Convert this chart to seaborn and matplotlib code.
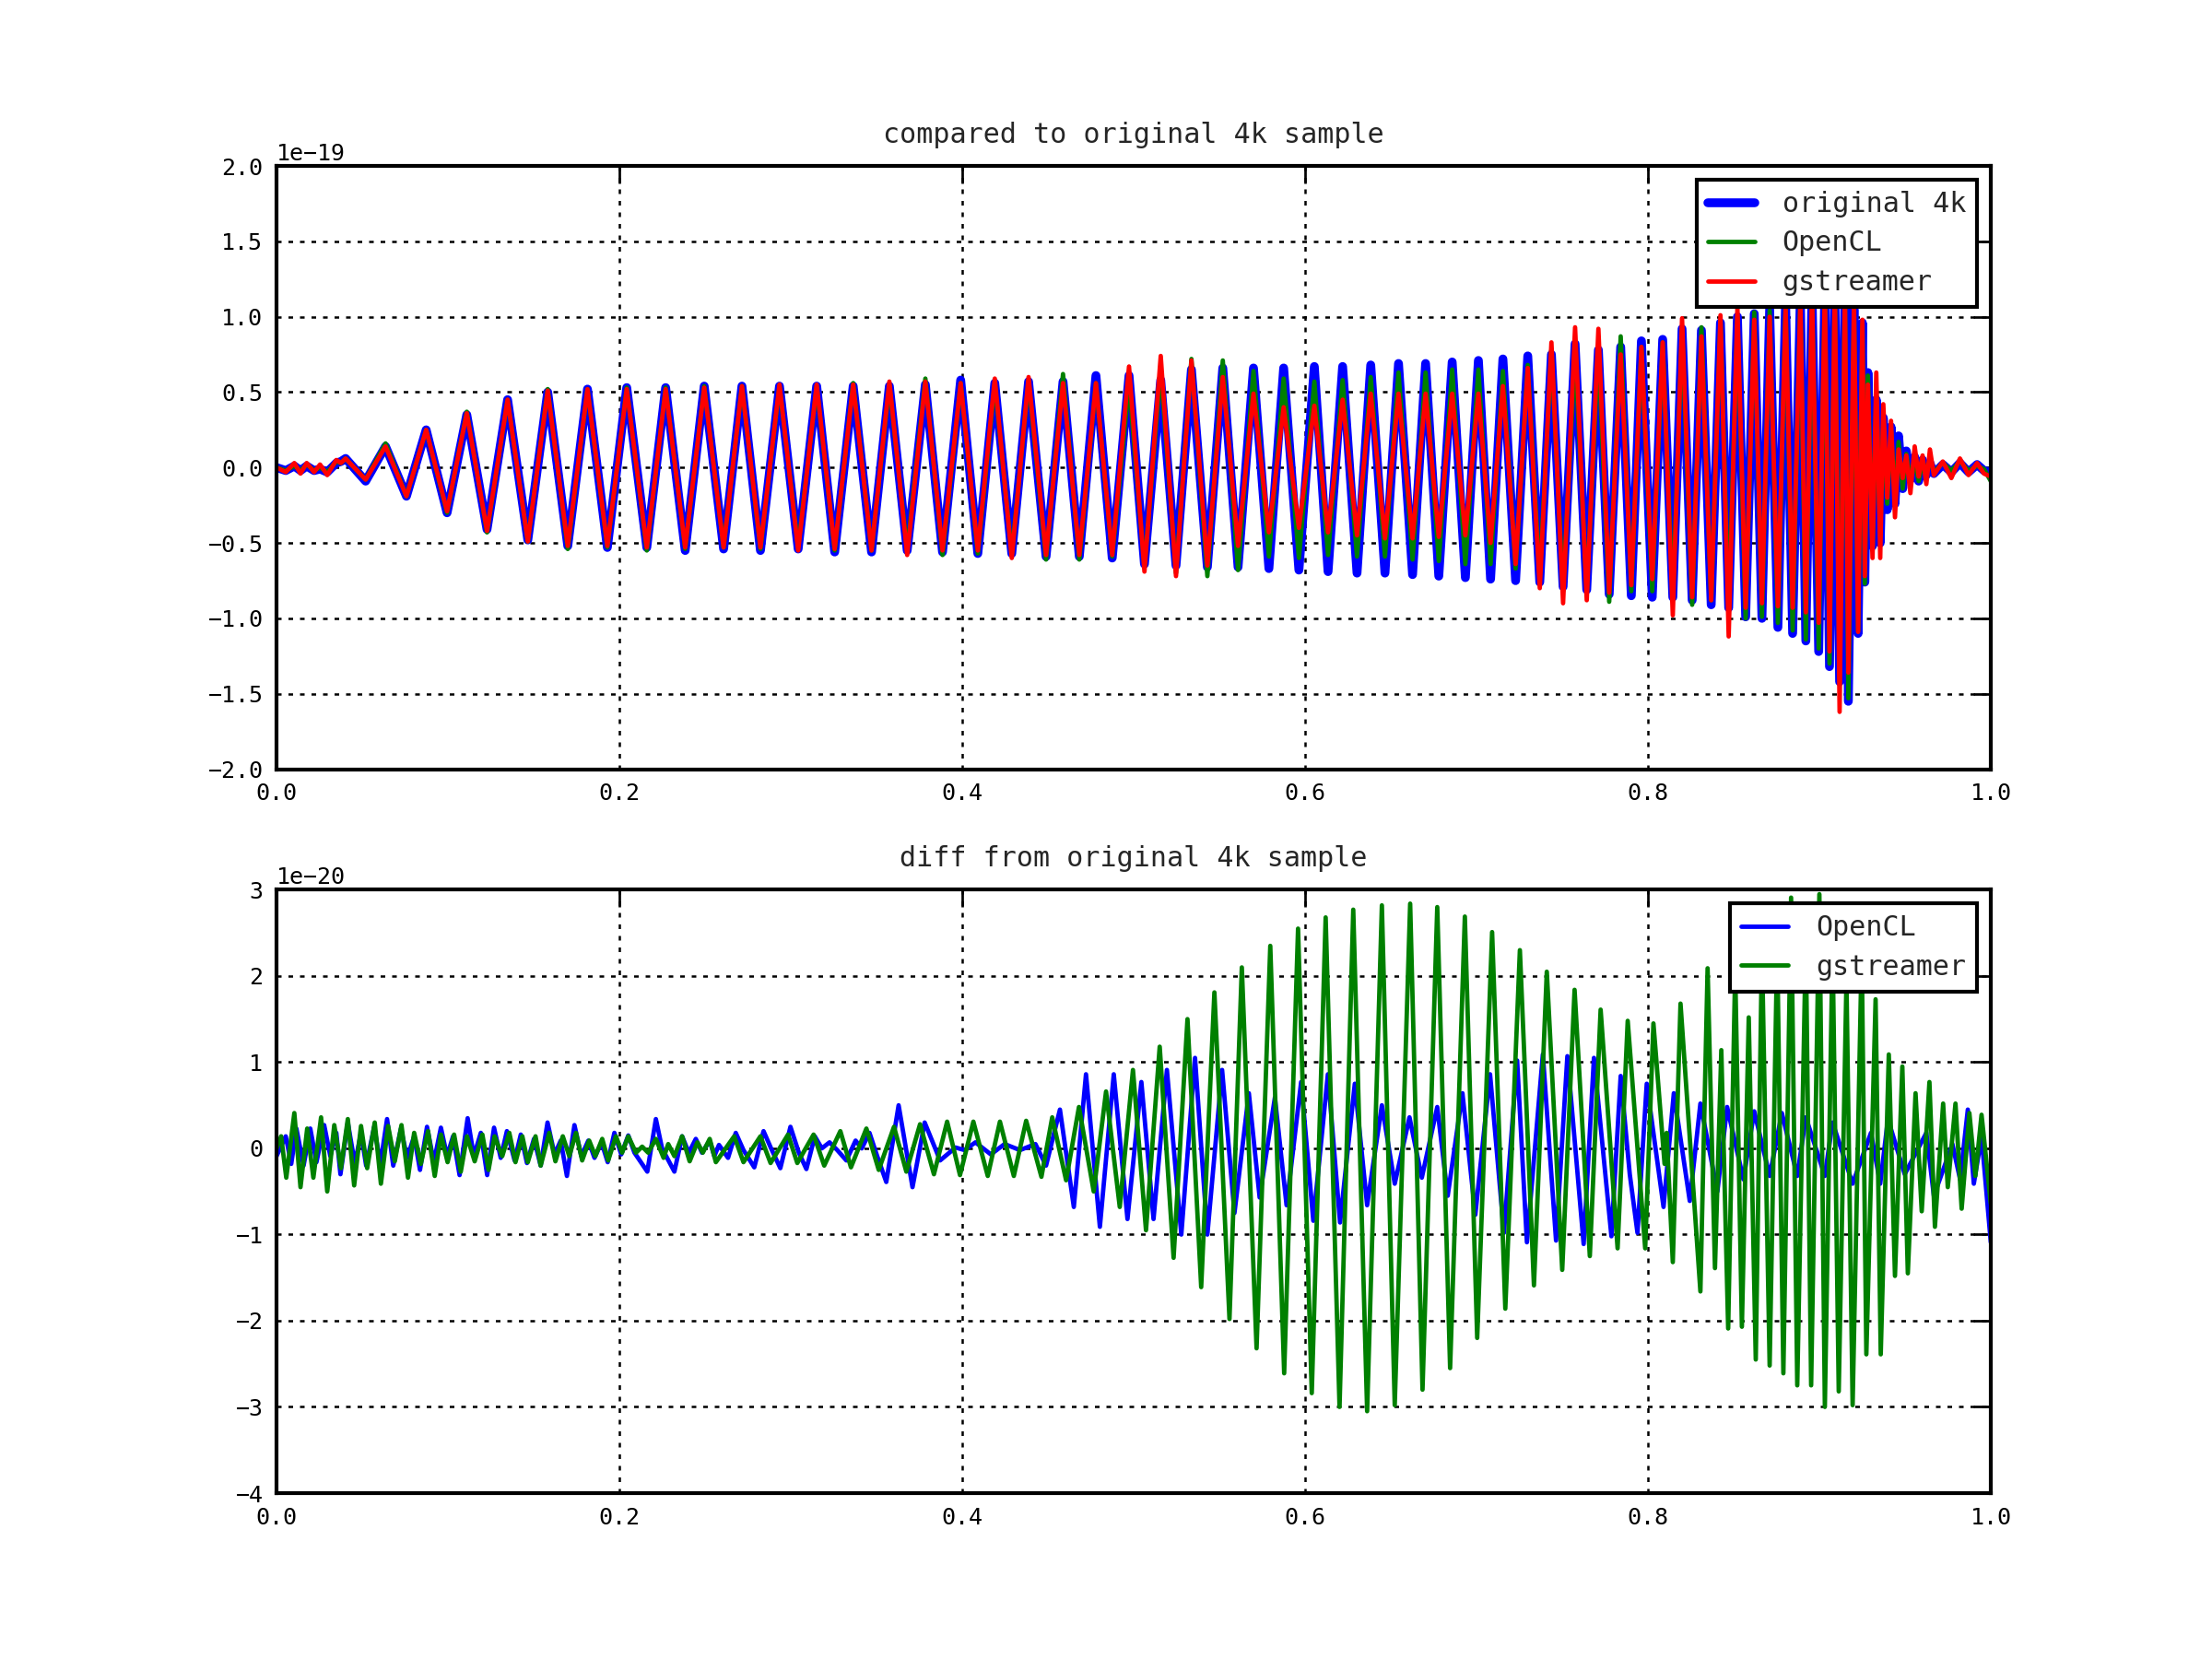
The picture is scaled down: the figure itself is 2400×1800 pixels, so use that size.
import numpy as np
import pandas as pd
import matplotlib
matplotlib.use("Agg")
import matplotlib.pyplot as plt
import seaborn as sns

# ---- top panel: extrema of the three waveforms (units of 1e-19) ----
t_top = [
    0.0, 0.0054, 0.0104, 0.014, 0.0176, 0.0219, 0.0254, 0.0296, 0.0349, 0.0376, 0.0403,
    0.052, 0.0636, 0.0758, 0.0873, 0.0995, 0.111, 0.1228, 0.1348, 0.1466, 0.1582,
    0.1699, 0.1814, 0.193, 0.2043, 0.216, 0.227, 0.2384, 0.2495,
    0.2608, 0.2715, 0.2823, 0.2934, 0.3043, 0.3151, 0.3256, 0.3364, 0.3471, 0.3575,
    0.3679, 0.3785, 0.3885, 0.3991, 0.4091, 0.419, 0.4289, 0.4387, 0.4489, 0.4588,
    0.4683, 0.478, 0.4875, 0.4973,
    0.5063, 0.5158, 0.5247, 0.5337, 0.543, 0.552, 0.5609, 0.5699, 0.5789, 0.5875,
    0.5964, 0.6054, 0.6134, 0.6219, 0.6303, 0.6383, 0.6466, 0.6545, 0.6627, 0.6703,
    0.678, 0.6858, 0.6935, 0.7011, 0.7082, 0.7154, 0.7228, 0.7299, 0.7369, 0.7437,
    0.7505, 0.7575, 0.7643, 0.7711, 0.7774, 0.7841, 0.7903, 0.7962, 0.8025, 0.8086,
    0.8145, 0.8199, 0.8258, 0.8312, 0.8369, 0.8423, 0.8471, 0.8522, 0.857, 0.862,
    0.8665, 0.871, 0.8758, 0.8803, 0.8844, 0.8889, 0.8921, 0.8957, 0.8996, 0.9032,
    0.9059, 0.909, 0.9118, 0.9149, 0.9169, 0.9202, 0.9226, 0.9251, 0.9265, 0.9283,
    0.931, 0.9332, 0.9355, 0.9373, 0.9396, 0.9418, 0.9441, 0.9462, 0.9486, 0.9507,
    0.9531, 0.9556, 0.9579, 0.9602, 0.9624, 0.9645, 0.9668,
    0.972, 0.977, 0.982, 0.987, 0.992, 0.996, 1.0,
]

original_4k = [
    0.0, -0.02, 0.01, -0.02, 0.01, -0.02, -0.01, -0.03, 0.03, 0.04, 0.06,
    -0.09, 0.14, -0.19, 0.25, -0.30, 0.35, -0.41, 0.45, -0.48, 0.50,
    -0.52, 0.52, -0.53, 0.53, -0.53, 0.53, -0.55, 0.54,
    -0.54, 0.54, -0.55, 0.54, -0.54, 0.54, -0.56, 0.54, -0.56, 0.54,
    -0.55, 0.55, -0.56, 0.58, -0.57, 0.56, -0.57, 0.57, -0.59, 0.57,
    -0.59, 0.61, -0.60, 0.61,
    -0.64, 0.58, -0.65, 0.65, -0.66, 0.66, -0.66, 0.66, -0.67, 0.66,
    -0.68, 0.67, -0.69, 0.67, -0.70, 0.68, -0.70, 0.69, -0.71, 0.69,
    -0.72, 0.70, -0.73, 0.71, -0.74, 0.72, -0.75, 0.74, -0.76, 0.75,
    -0.79, 0.82, -0.81, 0.78, -0.84, 0.80, -0.85, 0.84, -0.86, 0.85,
    -0.86, 0.92, -0.88, 0.91, -0.91, 0.96, -0.93, 1.00, -0.99, 1.02,
    -1.00, 1.05, -1.06, 1.10, -1.10, 1.13, -1.15, 1.17, -1.22, 1.20,
    -1.32, 1.20, -1.42, 1.15, -1.55, 1.05, -1.10, 0.96, -0.76, 0.63,
    -0.52, 0.45, -0.50, 0.33, -0.28, 0.27, -0.24, 0.21, -0.14, 0.11,
    -0.08, 0.07, -0.09, 0.05, -0.05, 0.03, -0.04,
    0.02, -0.03, 0.03, -0.03, 0.02, -0.02, -0.03,
]

opencl = [
    0.0, -0.02, 0.01, -0.02, 0.02, -0.02, 0.0, -0.03, 0.04, 0.03, 0.06,
    -0.08, 0.16, -0.19, 0.25, -0.30, 0.37, -0.43, 0.45, -0.49, 0.52,
    -0.54, 0.52, -0.53, 0.53, -0.55, 0.53, -0.54, 0.54,
    -0.53, 0.54, -0.54, 0.54, -0.53, 0.54, -0.55, 0.56, -0.55, 0.55,
    -0.55, 0.59, -0.58, 0.56, -0.57, 0.56, -0.58, 0.58, -0.61, 0.62,
    -0.61, 0.56, -0.59, 0.56,
    -0.66, 0.65, -0.70, 0.72, -0.72, 0.71, -0.68, 0.64, -0.59, 0.59,
    -0.60, 0.57, -0.58, 0.58, -0.59, 0.60, -0.59, 0.63, -0.61, 0.63,
    -0.62, 0.65, -0.64, 0.65, -0.64, 0.64, -0.67, 0.68, -0.73, 0.78,
    -0.82, 0.77, -0.83, 0.79, -0.89, 0.87, -0.82, 0.80, -0.82, 0.83,
    -0.88, 0.92, -0.91, 0.93, -0.88, 0.98, -0.96, 1.00, -1.00, 1.03,
    -0.99, 1.04, -1.03, 1.08, -1.08, 1.12, -1.14, 1.16, -1.20, 1.18,
    -1.30, 1.18, -1.40, 1.14, -1.53, 1.05, -1.08, 0.95, -0.77, 0.61,
    -0.55, 0.50, -0.46, 0.30, -0.24, 0.25, -0.22, 0.17, -0.14, 0.09,
    -0.08, 0.03, -0.09, 0.04, -0.02, 0.04, -0.03,
    0.03, -0.02, 0.04, -0.02, 0.01, -0.01, -0.09,
]

gstreamer = [
    0.0, -0.03, 0.03, -0.04, 0.03, -0.03, 0.02, -0.05, 0.05, 0.03, 0.06,
    -0.08, 0.14, -0.19, 0.25, -0.29, 0.36, -0.42, 0.45, -0.49, 0.51,
    -0.52, 0.52, -0.52, 0.52, -0.53, 0.52, -0.53, 0.53,
    -0.53, 0.54, -0.53, 0.55, -0.55, 0.55, -0.54, 0.55, -0.55, 0.57,
    -0.58, 0.57, -0.55, 0.56, -0.55, 0.59, -0.60, 0.60, -0.58, 0.56,
    -0.58, 0.56, -0.58, 0.67,
    -0.69, 0.74, -0.72, 0.71, -0.65, 0.60, -0.52, 0.49, -0.43, 0.40,
    -0.40, 0.41, -0.43, 0.45, -0.45, 0.49, -0.47, 0.49, -0.47, 0.49,
    -0.46, 0.49, -0.45, 0.49, -0.50, 0.54, -0.64, 0.66, -0.80, 0.83,
    -0.90, 0.93, -0.88, 0.92, -0.83, 0.75, -0.78, 0.80, -0.74, 0.83,
    -0.98, 0.99, -0.86, 0.87, -0.88, 1.01, -1.12, 1.06, -0.93, 0.98,
    -0.90, 1.00, -0.92, 1.06, -0.93, 1.10, -0.96, 1.15, -1.03, 1.18,
    -1.22, 1.20, -1.62, 1.18, -1.36, 1.10, -1.09, 0.98, -0.72, 0.55,
    -0.60, 0.63, -0.60, 0.42, -0.20, 0.31, -0.33, 0.12, -0.07, 0.08,
    -0.17, 0.14, -0.06, 0.08, -0.11, 0.12, -0.05,
    0.04, -0.07, 0.06, -0.05, 0.03, -0.04, -0.06,
]

# ---- bottom panel: (time, diff) extrema, units of 1e-20 ----
opencl_diff = [
    (0.0, -0.09), (0.0054, 0.14), (0.0086, -0.18), (0.0116, 0.23), (0.0158, -0.20),
    (0.0197, 0.23), (0.0233, -0.16), (0.0278, 0.27), (0.0314, -0.09), (0.0349, 0.18),
    (0.0373, -0.30), (0.0416, 0.30), (0.0457, -0.18), (0.0493, 0.18), (0.0523, -0.20),
    (0.0570, 0.25), (0.0606, -0.18), (0.0645, 0.34), (0.0681, -0.20), (0.0726, 0.23),
    (0.0762, -0.11), (0.0803, 0.14), (0.0837, -0.25), (0.0878, 0.25), (0.0918, -0.16),
    (0.0959, 0.24), (0.0995, -0.09), (0.1030, 0.14), (0.1068, -0.31), (0.1115, 0.35),
    (0.1151, -0.09), (0.1192, 0.18), (0.1229, -0.31), (0.1269, 0.24), (0.1308, -0.11),
    (0.1344, 0.20), (0.1389, -0.14), (0.1425, 0.16), (0.1461, -0.17), (0.1502, 0.11),
    (0.1541, -0.20), (0.1581, 0.30), (0.1622, -0.07), (0.1658, 0.09), (0.1694, -0.32),
    (0.1738, 0.27), (0.1778, -0.09), (0.1819, 0.09), (0.1855, -0.11), (0.1896, 0.07),
    (0.1932, -0.16), (0.1971, 0.18), (0.2011, -0.07), (0.2052, 0.15), (0.2088, -0.05),
    (0.2163, -0.27), (0.2213, 0.34), (0.2249, 0.0), (0.2321, -0.27), (0.2366, 0.14),
    (0.2405, -0.05), (0.2446, 0.11), (0.2482, -0.05), (0.2527, 0.09),
    (0.2554, -0.09), (0.2581, 0.04), (0.2634, -0.11), (0.2679, 0.18), (0.2724, -0.02),
    (0.2787, -0.22), (0.2841, 0.20), (0.2885, 0.0), (0.2939, -0.23), (0.2998, 0.25),
    (0.3047, -0.05), (0.3091, -0.24), (0.3140, 0.14), (0.3181, 0.0), (0.3226, 0.07),
    (0.3271, -0.02), (0.3324, -0.14), (0.3378, 0.09), (0.3414, 0.0), (0.3459, 0.18),
    (0.3504, -0.09), (0.3557, -0.39), (0.3629, 0.50), (0.3710, -0.45), (0.3781, 0.30),
    (0.3871, -0.14), (0.3925, -0.05), (0.3961, 0.01), (0.4014, -0.02), (0.4077, 0.07),
    (0.4167, -0.07), (0.4247, 0.05), (0.4337, -0.02), (0.4427, 0.05), (0.4489, -0.20),
    (0.4570, 0.45), (0.4651, -0.68), (0.4722, 0.86), (0.4803, -0.91), (0.4884, 0.86),
    (0.4964, -0.82), (0.5045, 0.77),
    (0.5116, -0.82), (0.5194, 0.91), (0.5278, -1.00), (0.5358, 1.05), (0.5430, -1.00),
    (0.5516, 0.91), (0.5588, -0.75), (0.5672, 0.64), (0.5735, -0.57), (0.5824, 0.59),
    (0.5892, -0.66), (0.5977, 0.77), (0.6048, -0.84), (0.6133, 0.86), (0.6204, -0.86),
    (0.6290, 0.75), (0.6362, -0.66), (0.6448, 0.50), (0.6523, -0.41), (0.6609, 0.36),
    (0.6681, -0.34), (0.6771, 0.48), (0.6832, -0.55), (0.6918, 0.64), (0.6993, -0.77),
    (0.7079, 0.86), (0.7160, -0.98), (0.7237, 1.02), (0.7294, -1.09), (0.7387, 1.09),
    (0.7464, -1.07), (0.7530, 1.07),
    (0.7625, -1.11), (0.7685, 1.05), (0.7787, -1.02), (0.7841, 0.84), (0.7894, -0.30),
    (0.7939, -0.98), (0.7993, 0.75), (0.8091, -0.68), (0.8151, 0.64), (0.8244, -0.61),
    (0.8306, 0.52), (0.8405, -0.50), (0.8462, 0.48), (0.8557, -0.36), (0.8620, 0.43),
    (0.8710, -0.32), (0.8781, 0.41), (0.8871, -0.32), (0.8921, 0.36), (0.9032, -0.32),
    (0.9077, 0.30), (0.9194, -0.41), (0.9301, 0.18), (0.9355, -0.41), (0.9400, 0.34),
    (0.9498, -0.30), (0.9624, 0.18), (0.9668, -0.55), (0.9776, 0.05), (0.9821, -0.36),
    (0.9866, 0.45), (0.9901, -0.41), (0.9946, 0.14), (1.0, -1.09),
]

gstreamer_diff = [
    (0.0, 0.0), (0.0027, 0.14), (0.0057, -0.34), (0.0104, 0.41), (0.0140, -0.45),
    (0.0179, 0.23), (0.0215, -0.34), (0.0260, 0.36), (0.0296, -0.50), (0.0337, 0.27),
    (0.0376, -0.23), (0.0416, 0.34), (0.0453, -0.43), (0.0493, 0.26), (0.0529, -0.23),
    (0.0573, 0.30), (0.0609, -0.41), (0.0651, 0.26), (0.0690, -0.15), (0.0729, 0.27),
    (0.0767, -0.34), (0.0803, 0.18), (0.0842, -0.18), (0.0884, 0.20), (0.0923, -0.32),
    (0.0959, 0.16), (0.0998, -0.16), (0.1036, 0.16), (0.1075, -0.27), (0.1111, 0.14),
    (0.1156, -0.15), (0.1201, 0.16), (0.1237, -0.25), (0.1272, 0.14), (0.1317, -0.09),
    (0.1358, 0.18), (0.1394, -0.16), (0.1434, 0.14), (0.1466, -0.16), (0.1511, 0.14),
    (0.1541, -0.20), (0.1591, 0.18), (0.1627, -0.15), (0.1670, 0.14), (0.1708, -0.09),
    (0.1747, 0.18), (0.1783, -0.14), (0.1824, 0.09), (0.1860, -0.09), (0.1900, 0.11),
    (0.1935, -0.14), (0.1980, 0.14), (0.2016, -0.05), (0.2052, 0.14), (0.2097, -0.05),
    (0.2133, 0.02), (0.2168, -0.05), (0.2213, 0.11), (0.2258, -0.11), (0.2285, 0.05),
    (0.2321, -0.09), (0.2366, 0.14), (0.2410, -0.15), (0.2455, 0.07), (0.2487, -0.05),
    (0.2527, 0.11),
    (0.2563, -0.16), (0.2670, 0.14), (0.2724, -0.16), (0.2823, 0.14), (0.2882, -0.17),
    (0.2984, 0.16), (0.3038, -0.17), (0.3133, 0.16), (0.3195, -0.20), (0.3289, 0.20),
    (0.3351, -0.22), (0.3441, 0.23), (0.3513, -0.25), (0.3602, 0.25), (0.3674, -0.27),
    (0.3754, 0.28), (0.3835, -0.30), (0.3912, 0.31), (0.3987, -0.31), (0.4065, 0.31),
    (0.4149, -0.32), (0.4220, 0.31), (0.4301, -0.32), (0.4373, 0.32), (0.4462, -0.33),
    (0.4525, 0.36), (0.4606, -0.37), (0.4681, 0.48), (0.4767, -0.50), (0.4839, 0.66),
    (0.4919, -0.68), (0.4996, 0.91),
    (0.5072, -0.95), (0.5152, 1.18), (0.5233, -1.27), (0.5314, 1.50), (0.5394, -1.61),
    (0.5471, 1.81), (0.5559, -1.98), (0.5631, 2.10), (0.5717, -2.32), (0.5797, 2.35),
    (0.5878, -2.61), (0.5959, 2.55), (0.6039, -2.84), (0.6120, 2.68), (0.6201, -3.00),
    (0.6281, 2.77), (0.6362, -3.05), (0.6448, 2.82), (0.6523, -2.98), (0.6613, 2.84),
    (0.6685, -2.80), (0.6771, 2.80), (0.6846, -2.55), (0.6932, 2.69), (0.7004, -2.20),
    (0.7091, 2.51), (0.7168, -1.86), (0.7253, 2.30), (0.7335, -1.59), (0.7410, 2.05),
    (0.7500, -1.41), (0.7572, 1.84),
    (0.7661, -1.25), (0.7724, 1.61), (0.7823, -1.16), (0.7882, 1.48), (0.7984, -1.16),
    (0.8032, 1.45), (0.8097, -0.18), (0.8109, 0.18), (0.8145, -1.32), (0.8190, 1.68),
    (0.8306, -1.66), (0.8348, 2.09), (0.8391, -1.39), (0.8428, 1.14), (0.8468, -2.09),
    (0.8509, 2.07), (0.8548, -2.07), (0.8588, 1.52), (0.8629, -2.45), (0.8665, 2.32),
    (0.8710, -2.52), (0.8754, 2.36), (0.8790, -2.61), (0.8835, 2.91), (0.8871, -2.75),
    (0.8921, 2.41), (0.8952, -2.75), (0.9000, 2.95), (0.9032, -3.00), (0.9077, 2.36),
    (0.9113, -2.82), (0.9158, 1.95), (0.9194, -2.98), (0.9247, 2.30), (0.9274, -2.39),
    (0.9328, 1.73), (0.9358, -2.39), (0.9405, 1.09), (0.9441, -1.48), (0.9484, 0.95),
    (0.9516, -1.45), (0.9561, 0.64), (0.9597, -0.73), (0.9642, 0.77), (0.9674, -0.91),
    (0.9722, 0.52), (0.9749, -0.45), (0.9794, 0.52), (0.9830, -0.70), (0.9875, 0.41),
    (0.9910, -0.32), (0.9946, 0.39), (1.0, -0.64),
]

assert len(t_top) == len(original_4k) == len(opencl) == len(gstreamer)

# ---- style (old matplotlib look) ----
sns.set_theme(style="white")
plt.rcParams.update({
    "axes.edgecolor": "black",
    "axes.linewidth": 2.0,
    "axes.facecolor": "white",
    "figure.facecolor": "white",
    "xtick.direction": "in",
    "ytick.direction": "in",
    "xtick.top": True,
    "ytick.right": True,
    "xtick.color": "black",
    "ytick.color": "black",
    "axes.unicode_minus": True,
})
plt.rcParams["font.family"] = ["DejaVu Sans Mono", "DejaVu Sans"]

BLUE, GREEN, RED = "#0000ff", "#008000", "#ff0000"

top_df = pd.DataFrame({
    "t": t_top,
    "original 4k": np.array(original_4k) * 1e-19,
    "OpenCL": np.array(opencl) * 1e-19,
    "gstreamer": np.array(gstreamer) * 1e-19,
})
ocl_df = pd.DataFrame(opencl_diff, columns=["t", "v"])
ocl_df["v"] = ocl_df["v"] * 1e-20
gst_df = pd.DataFrame(gstreamer_diff, columns=["t", "v"])
gst_df["v"] = gst_df["v"] * 1e-20

fig, (ax1, ax2) = plt.subplots(2, 1, figsize=(16, 12), dpi=150)
fig.subplots_adjust(left=0.125, right=0.9, bottom=0.1, top=0.9, hspace=0.2)

thin = 2.3
thick = 4.6

sns.lineplot(data=top_df, x="t", y="original 4k", ax=ax1, color=BLUE, lw=thick,
             label="original 4k", estimator=None, sort=False)
sns.lineplot(data=top_df, x="t", y="OpenCL", ax=ax1, color=GREEN, lw=thin,
             label="OpenCL", estimator=None, sort=False)
sns.lineplot(data=top_df, x="t", y="gstreamer", ax=ax1, color=RED, lw=thin,
             label="gstreamer", estimator=None, sort=False)

sns.lineplot(data=ocl_df, x="t", y="v", ax=ax2, color=BLUE, lw=thin,
             label="OpenCL", estimator=None, sort=False)
sns.lineplot(data=gst_df, x="t", y="v", ax=ax2, color=GREEN, lw=thin,
             label="gstreamer", estimator=None, sort=False)

ax1.set_ylim(-2e-19, 2e-19)
ax1.set_yticks(np.arange(-2, 2.01, 0.5) * 1e-19)
ax2.set_ylim(-4e-20, 3e-20)
ax2.set_yticks(np.arange(-4, 3.01, 1) * 1e-20)

ax1.set_title("compared to original 4k sample", fontsize=14.4, pad=12)
ax2.set_title("diff from original 4k sample", fontsize=14.4, pad=12)

for ax in (ax1, ax2):
    ax.set_xlim(0, 1)
    ax.set_xticks(np.arange(0, 1.01, 0.2))
    ax.set_xlabel("")
    ax.set_ylabel("")
    ax.grid(True, color="black", linestyle=(0, (2, 3)), linewidth=1.2)
    ax.tick_params(which="major", direction="in", length=9, width=1.3,
                   labelsize=12, pad=7, top=True, right=True)
    ax.yaxis.get_offset_text().set_fontsize(12)
    for s in ax.spines.values():
        s.set_linewidth(2.0)
        s.set_color("black")
    leg = ax.legend(loc="upper right", fontsize=14.4, fancybox=False,
                    framealpha=1, edgecolor="black", borderpad=0.4,
                    labelspacing=0.45, handlelength=1.7, handletextpad=1.0,
                    borderaxespad=0.5)
    leg.get_frame().set_linewidth(2.0)

fig.savefig("out.png", dpi=150)
